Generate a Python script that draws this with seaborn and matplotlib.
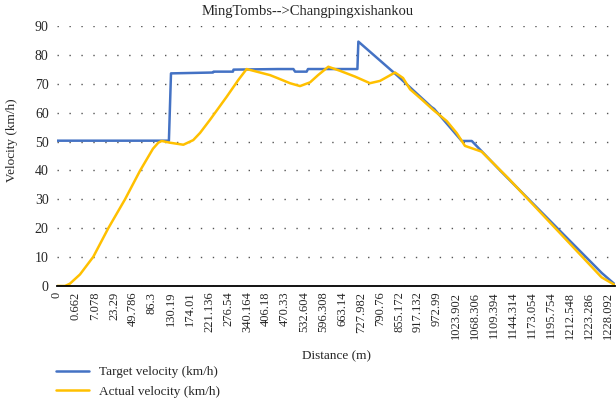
"""
Velocidad objetivo vs. velocidad real en el tramo
MingTombs --> Changpingxishankou.
"""

import matplotlib.pyplot as plt
import numpy as np
import pandas as pd
import seaborn as sns

# Etiquetas del eje X (distancia en m), una por posicion de categoria
DISTANCE_LABELS = [
    "0", "0.662", "7.078", "23.29", "49.786", "86.3", "130.19",
    "174.01", "221.136", "276.54", "340.164", "406.18", "470.33",
    "532.604", "596.308", "663.14", "727.982", "790.76", "855.172",
    "917.132", "972.99", "1023.902", "1068.306", "1109.394",
    "1144.314", "1173.054", "1195.754", "1212.548", "1223.286",
    "1228.092",
]

# Velocidad objetivo: posicion (en unidades de categoria) y valor
target_pos = [
    0.0, 5.89, 6.0, 8.21, 8.24, 9.26, 9.29, 11.63, 12.44, 12.53,
    13.14, 13.21, 15.81, 15.86, 17.88, 19.7, 19.85, 21.3, 21.83,
    23.32, 28.67, 29.37,
]
target_vel = [
    50.3, 50.3, 73.6, 73.9, 74.2, 74.2, 74.9, 75.1, 75.1, 74.2,
    74.2, 75.1, 75.1, 84.6, 73.0, 62.0, 61.3, 50.2, 50.2,
    40.0, 4.5, 0.5,
]

# Velocidad real
actual_pos = [
    0.0, 0.42, 0.68, 1.21, 1.91, 2.7, 3.58, 4.37, 5.05, 5.33, 5.51,
    5.95, 6.65, 7.17, 7.53, 8.05, 8.93, 9.54, 9.98, 11.21, 11.63,
    12.26, 12.79, 13.32, 13.74, 14.28, 14.89, 15.68, 16.47, 17.0,
    17.79, 18.21, 18.58, 19.19, 19.81, 20.51, 21.04, 21.47, 22.0,
    22.35, 22.96, 23.75, 28.66, 29.37,
]
actual_vel = [
    0.0, 0.0, 0.8, 4.0, 10.1, 20.0, 30.0, 39.9, 47.5, 49.6, 50.2,
    49.6, 48.9, 50.5, 53.0, 57.5, 65.5, 71.3, 75.1, 73.0, 71.9,
    70.2, 69.2, 70.5, 73.0, 75.9, 74.5, 72.5, 70.2, 71.0,
    73.9, 72.0, 68.1, 64.6, 60.9, 57.1, 52.9, 48.5, 47.3,
    46.5, 42.5, 37.3, 3.0, 0.3,
]

COLOR_TARGET = "#4472C4"
COLOR_ACTUAL = "#FFC000"

sns.set_style("white")
plt.rcParams["font.family"] = ["Liberation Serif", "DejaVu Serif"]

target = pd.DataFrame({"pos": target_pos, "vel": target_vel})
actual = pd.DataFrame({"pos": actual_pos, "vel": actual_vel})

fig = plt.figure(figsize=(6.16, 4.0), dpi=100)
ax = fig.add_axes([0.0925, 0.285, 0.906, 0.65])

sns.lineplot(
    data=target, x="pos", y="vel", color=COLOR_TARGET,
    linewidth=1.8, sort=False, label="Target velocity (km/h)", ax=ax,
)
sns.lineplot(
    data=actual, x="pos", y="vel", color=COLOR_ACTUAL,
    linewidth=1.8, sort=False, label="Actual velocity (km/h)", ax=ax,
)

ax.set_xlim(0, 29.37)
ax.set_ylim(0, 90)
ax.set_yticks(np.arange(0, 91, 10))
ax.set_xticks(range(len(DISTANCE_LABELS)))
ax.set_xticklabels(DISTANCE_LABELS, rotation=90, fontsize=9)
ax.tick_params(axis="y", labelsize=10, length=0, pad=6)
ax.tick_params(axis="x", length=0, pad=4)

ax.yaxis.grid(True, color="#555555", linewidth=1,
              linestyle=(0, (1, 7.6)))
ax.xaxis.grid(False)
for lado in ["left", "right", "top"]:
    ax.spines[lado].set_visible(False)
ax.spines["bottom"].set_color("black")
ax.spines["bottom"].set_linewidth(1.3)

ax.set_xlabel("Distance (m)", fontsize=9.5)
ax.xaxis.set_label_coords(0.5, -0.246)
ax.set_ylabel("Velocity (km/h)", fontsize=9.5)
ax.yaxis.set_label_coords(-0.07, 0.56)

fig.text(0.5, 1 - 12 / 400, "MingTombs-->Changpingxishankou",
         ha="center", va="center", fontsize=10.5)

ax.get_legend().remove()
handles, labels = ax.get_legend_handles_labels()
fig.legend(
    handles, labels, loc="upper left",
    bbox_to_anchor=(0.082, 0.098), frameon=False, fontsize=9.5,
    handlelength=2.5, labelspacing=0.55, borderaxespad=0,
)

fig.savefig("out.png", dpi=100)
plt.close(fig)
